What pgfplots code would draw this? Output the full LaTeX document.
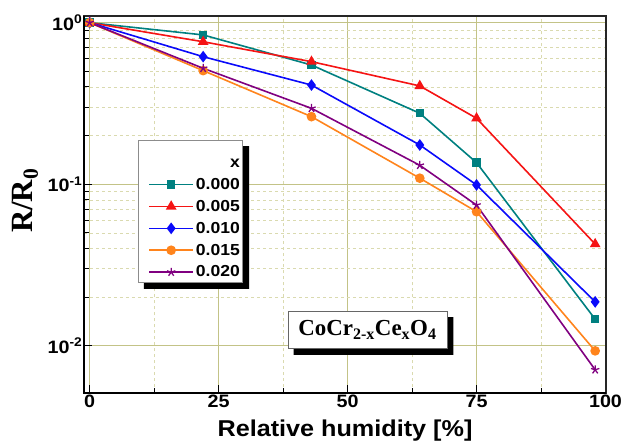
\documentclass[border=0pt]{standalone}
\usepackage{fontspec}
\setmainfont{Liberation Sans}[FakeStretch=1.1]
\newfontfamily\serifbf{Liberation Serif}
\usepackage{pgfplots}
\pgfplotsset{compat=1.18}

\definecolor{cteal}{RGB}{0,128,128}
\definecolor{cred}{RGB}{245,20,20}
\definecolor{cblue}{RGB}{10,10,250}
\definecolor{corange}{RGB}{255,132,28}
\definecolor{cpurple}{RGB}{128,0,128}
\definecolor{gridmaj}{RGB}{195,195,135}
\definecolor{gridmin}{RGB}{218,218,175}

% solid L-shaped shadow on the right and bottom of a box
\tikzset{box shadow/.style={append after command={
  \pgfextra{\fill[black]
    ([yshift=-#1]\tikzlastnode.north east) -- ([xshift=#1,yshift=-#1]\tikzlastnode.north east)
    -- ([xshift=#1,yshift=-#1]\tikzlastnode.south east) -- ([xshift=#1,yshift=-#1]\tikzlastnode.south west)
    -- ([xshift=#1]\tikzlastnode.south west) -- (\tikzlastnode.south east) -- cycle;}}}}

\begin{document}
\begin{tikzpicture}
\path[use as bounding box] (-84bp,-55bp) rectangle (541bp,393bp);
\begin{axis}[
  name=ax,
  at={(0,0)}, anchor=south west, scale only axis,
  width=522bp, height=377bp,
  ymode=log,
  xmin=-1.1, xmax=100.1, ymin=0.0051, ymax=1.1,
  xtick={0,25,50,75,100},
  minor x tick num=1,
  ytick={0.01,0.1,1},
  yticklabels={10\textsuperscript{-2},10\textsuperscript{-1},10\textsuperscript{0}},
  /pgf/number format/assume math mode=true,
  tick align=inside,
  xtick pos=bottom, ytick pos=left,
  major tick length=8bp, minor tick length=5bp,
  tick style={black, line width=1bp},
  xmajorgrids, xminorgrids, ymajorgrids, yminorgrids,
  major grid style={solid, gridmaj, line width=0.8bp},
  minor grid style={dashed, gridmin, line width=0.7bp},
  axis line style={black!85, line width=1.3bp},
  tick label style={font=\bfseries\fontsize{18}{18}\selectfont},
  xticklabel style={inner sep=2bp},
  yticklabel style={inner sep=1.5bp},
  xlabel={Relative humidity [\%]},
  ylabel={\serifbf\bfseries R/R\textsubscript{0}},
  every axis x label/.style={at={(axis description cs:0.5,-0.099)}, anchor=center,
    font=\bfseries\fontsize{23}{23}\selectfont},
  every axis y label/.style={at={(axis description cs:-0.113,0.51)}, anchor=center, rotate=90,
    font=\fontsize{31}{31}\selectfont},
  legend cell align=right,
  legend image code/.code={%
    \path (0bp,0bp);
    \draw[mark repeat=2, mark phase=2] plot coordinates {(9bp,0bp) (31bp,0bp) (53bp,0bp)};},
  legend image post style={line width=1.6bp},
  legend style={
    at={(rel axis cs:0.1034,0.671)}, anchor=north west,
    draw=black!45, fill=white, line width=0.8bp,
    font=\bfseries\fontsize{16}{16}\selectfont,
    row sep=5.3bp, inner xsep=1bp, inner ysep=2bp,
    box shadow=6bp,
    /tikz/every even column/.append style={column sep=5bp},
  },
]
\addlegendimage{empty legend}
\addlegendentry{\rule{0pt}{23bp}x}

\addplot[cteal, line width=1.6bp, mark=square*, mark size=3.4bp, mark options={solid}]
  coordinates {(0,1.0) (22,0.84) (43,0.547) (64,0.275) (75,0.136) (98,0.0146)};
\addlegendentry{0.000}

\addplot[cred, line width=1.6bp, mark=triangle*, mark size=4.6bp, mark options={solid}]
  coordinates {(0,1.0) (22,0.762) (43,0.574) (64,0.406) (75,0.256) (98,0.0426)};
\addlegendentry{0.005}

\addplot[cblue, line width=1.6bp, mark=diamond*, mark size=4.6bp, mark options={solid}]
  coordinates {(0,1.0) (22,0.616) (43,0.411) (64,0.175) (75,0.099) (98,0.0187)};
\addlegendentry{0.010}

\addplot[corange, line width=1.6bp, mark=*, mark size=4bp, mark options={solid}]
  coordinates {(0,1.0) (22,0.505) (43,0.262) (64,0.109) (75,0.0676) (98,0.0093)};
\addlegendentry{0.015}

\addplot[cpurple, line width=1.6bp, mark=star, mark size=4.4bp, mark options={solid, line width=1.3bp}]
  coordinates {(0,1.0) (22,0.522) (43,0.295) (64,0.131) (75,0.0743) (98,0.0071)};
\addlegendentry{0.020}

\node[draw=black!60, fill=white, line width=0.8bp, box shadow=6bp,
  minimum width=159bp, minimum height=37bp, inner sep=2bp,
  font=\serifbf\bfseries\fontsize{23}{23}\selectfont]
  at (rel axis cs:0.543,0.167) {CoCr\textsubscript{2-x}Ce\textsubscript{x}O\textsubscript{4}};
\end{axis}
\draw[black, line width=2.4bp] (ax.north west) -- (ax.south west) -- (ax.south east);
\end{tikzpicture}
\end{document}
